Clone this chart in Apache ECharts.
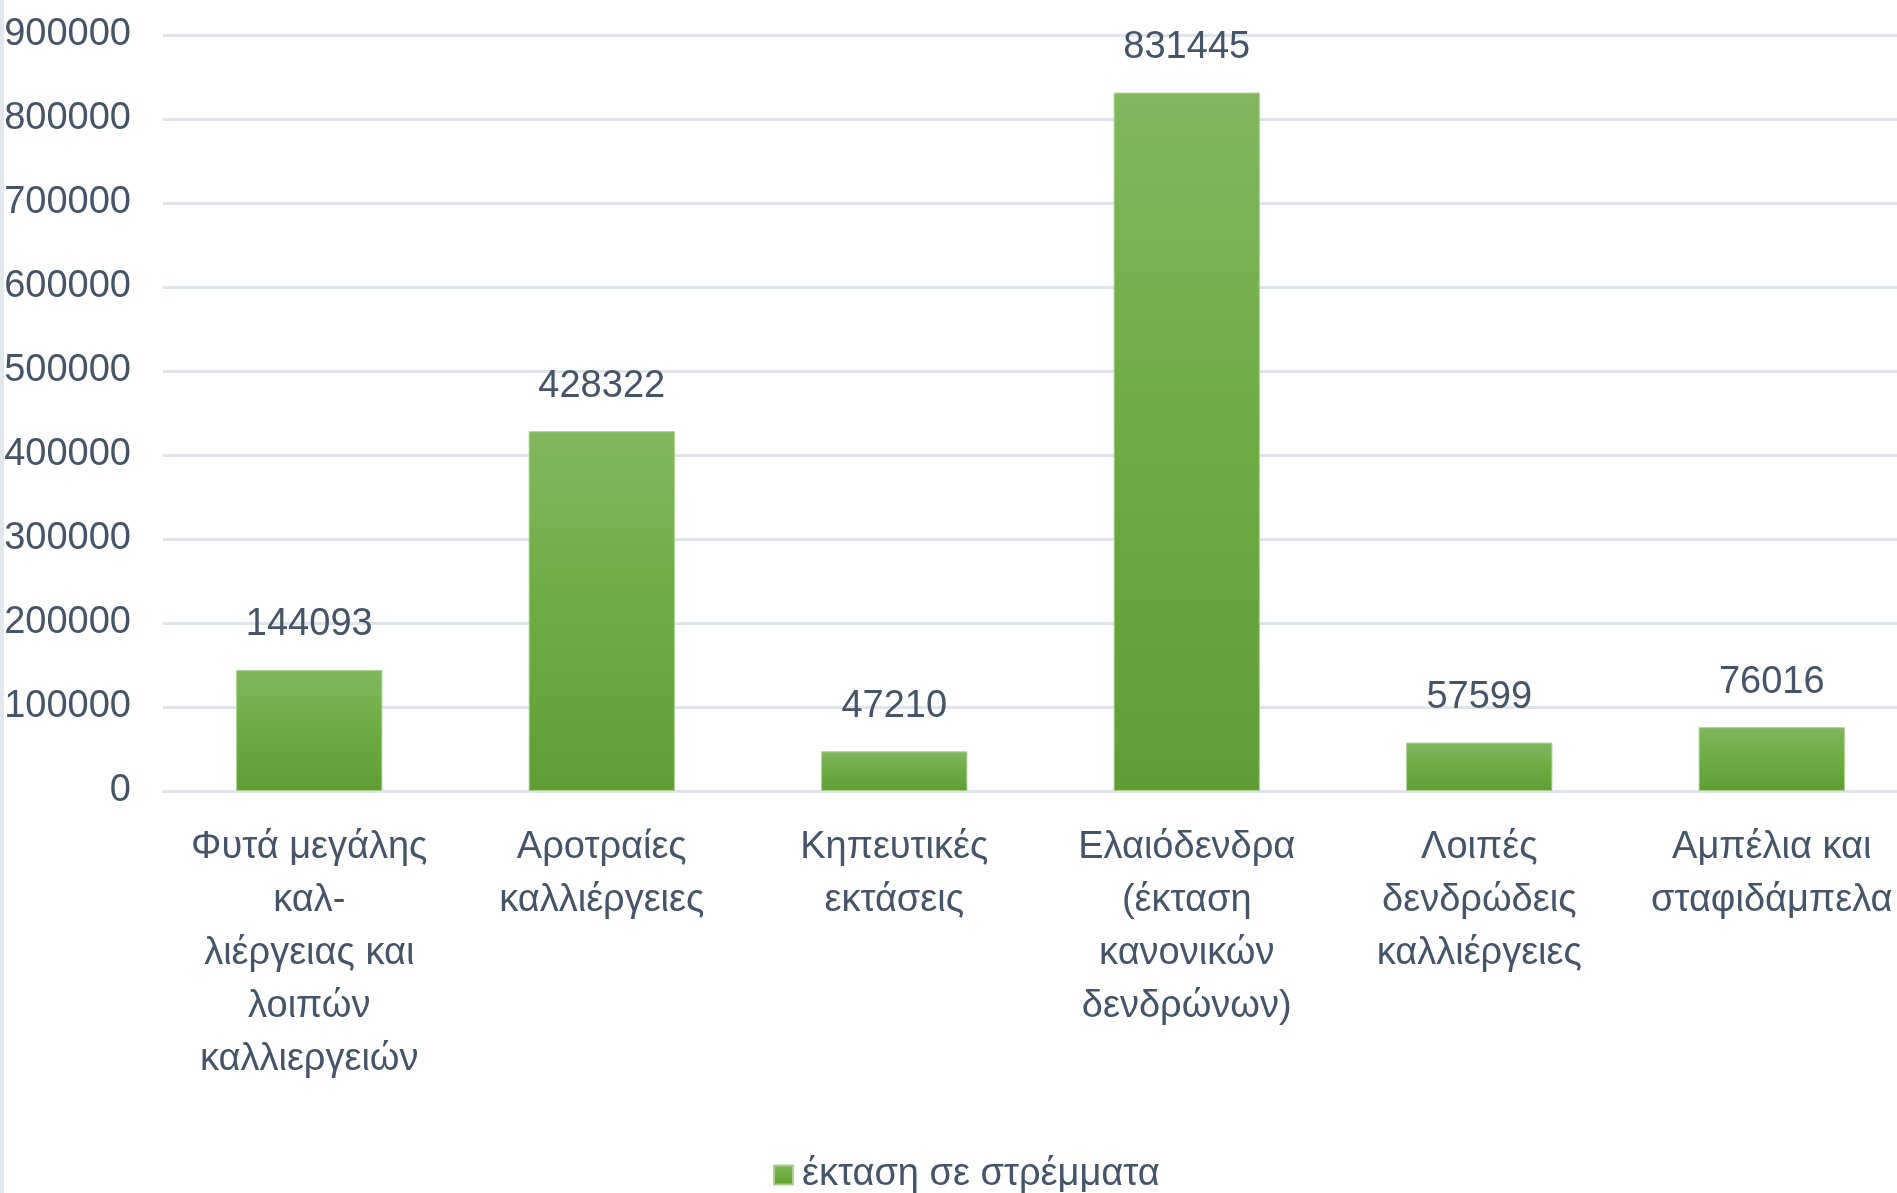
<!DOCTYPE html>
<html>
<head>
<meta charset="utf-8">
<script src="https://cdn.jsdelivr.net/npm/echarts@6/dist/echarts.min.js"></script>
<style>
  html, body { margin: 0; padding: 0; background: #fff; }
  #chart { width: 1897px; height: 1193px; }
</style>
</head>
<body>
<div id="chart"></div>
<script>
// κατηγορίες καλλιεργειών
var categories = [
  'Φυτά μεγάλης\nκαλ-\nλιέργειας και\nλοιπών\nκαλλιεργειών',
  'Αροτραίες\nκαλλιέργειες',
  'Κηπευτικές\nεκτάσεις',
  'Ελαιόδενδρα\n(έκταση\nκανονικών\nδενδρώνων)',
  'Λοιπές\nδενδρώδεις\nκαλλιέργειες',
  'Αμπέλια και\nσταφιδάμπελα'
];
var seriesName = 'έκταση σε στρέμματα';
var values = [144093, 428322, 47210, 831445, 57599, 76016];
var yTicks = [0, 100000, 200000, 300000, 400000, 500000, 600000, 700000, 800000, 900000];

var textColor = '#44546a';
var gridColor = '#dfe4ea';
var font = '"Liberation Sans", Arial, sans-serif';

var chart = echarts.init(document.getElementById('chart'));
chart.setOption({
  backgroundColor: '#ffffff',
  animation: false,
  textStyle: { fontFamily: font },
  // το διάγραμμα συνεχίζει λίγο πέρα από τη δεξιά άκρη
  grid: { left: 163, right: -21, top: 35, bottom: 402, containLabel: false, outerBoundsMode: 'none' },
  legend: {
    data: [seriesName],
    bottom: -6,
    left: 768,
    icon: 'rect',
    itemWidth: 19,
    itemHeight: 19,
    itemGap: 8,
    textStyle: { fontSize: 38, color: textColor, fontFamily: font, padding: [0, 0, 0, 4] }
  },
  xAxis: {
    type: 'category',
    data: categories,
    axisLine: { show: true, lineStyle: { color: gridColor, width: 3 } },
    axisTick: { show: false },
    axisLabel: {
      interval: 0,
      color: textColor,
      fontSize: 38,
      lineHeight: 53,
      margin: 30,
      fontFamily: font
    }
  },
  yAxis: {
    type: 'value',
    min: yTicks[0],
    max: yTicks[yTicks.length - 1],
    interval: yTicks[1] - yTicks[0],
    axisLine: { show: false },
    axisTick: { show: false },
    splitLine: { lineStyle: { color: gridColor, width: 3 } },
    axisLabel: {
      color: textColor, fontSize: 38, margin: 32, fontFamily: font,
      formatter: function (v) { return String(v); }
    }
  },
  series: [{
    name: seriesName,
    type: 'bar',
    data: values,
    barCategoryGap: '50%',
    itemStyle: {
      color: new echarts.graphic.LinearGradient(0, 0, 0, 1, [
        { offset: 0, color: '#81b75f' },
        { offset: 0.5, color: '#6cac40' },
        { offset: 1, color: '#5f9e33' }
      ]),
      borderColor: '#a9d08e',
      borderWidth: 1
    },
    label: {
      show: true,
      position: 'top',
      distance: 26,
      color: textColor,
      fontSize: 38,
      fontFamily: font
    }
  }],
  graphic: [{
    type: 'rect',
    shape: { x: 0, y: 0, width: 4, height: 1193 },
    style: { fill: '#e3e8ee' }
  }]
});
</script>
</body>
</html>
